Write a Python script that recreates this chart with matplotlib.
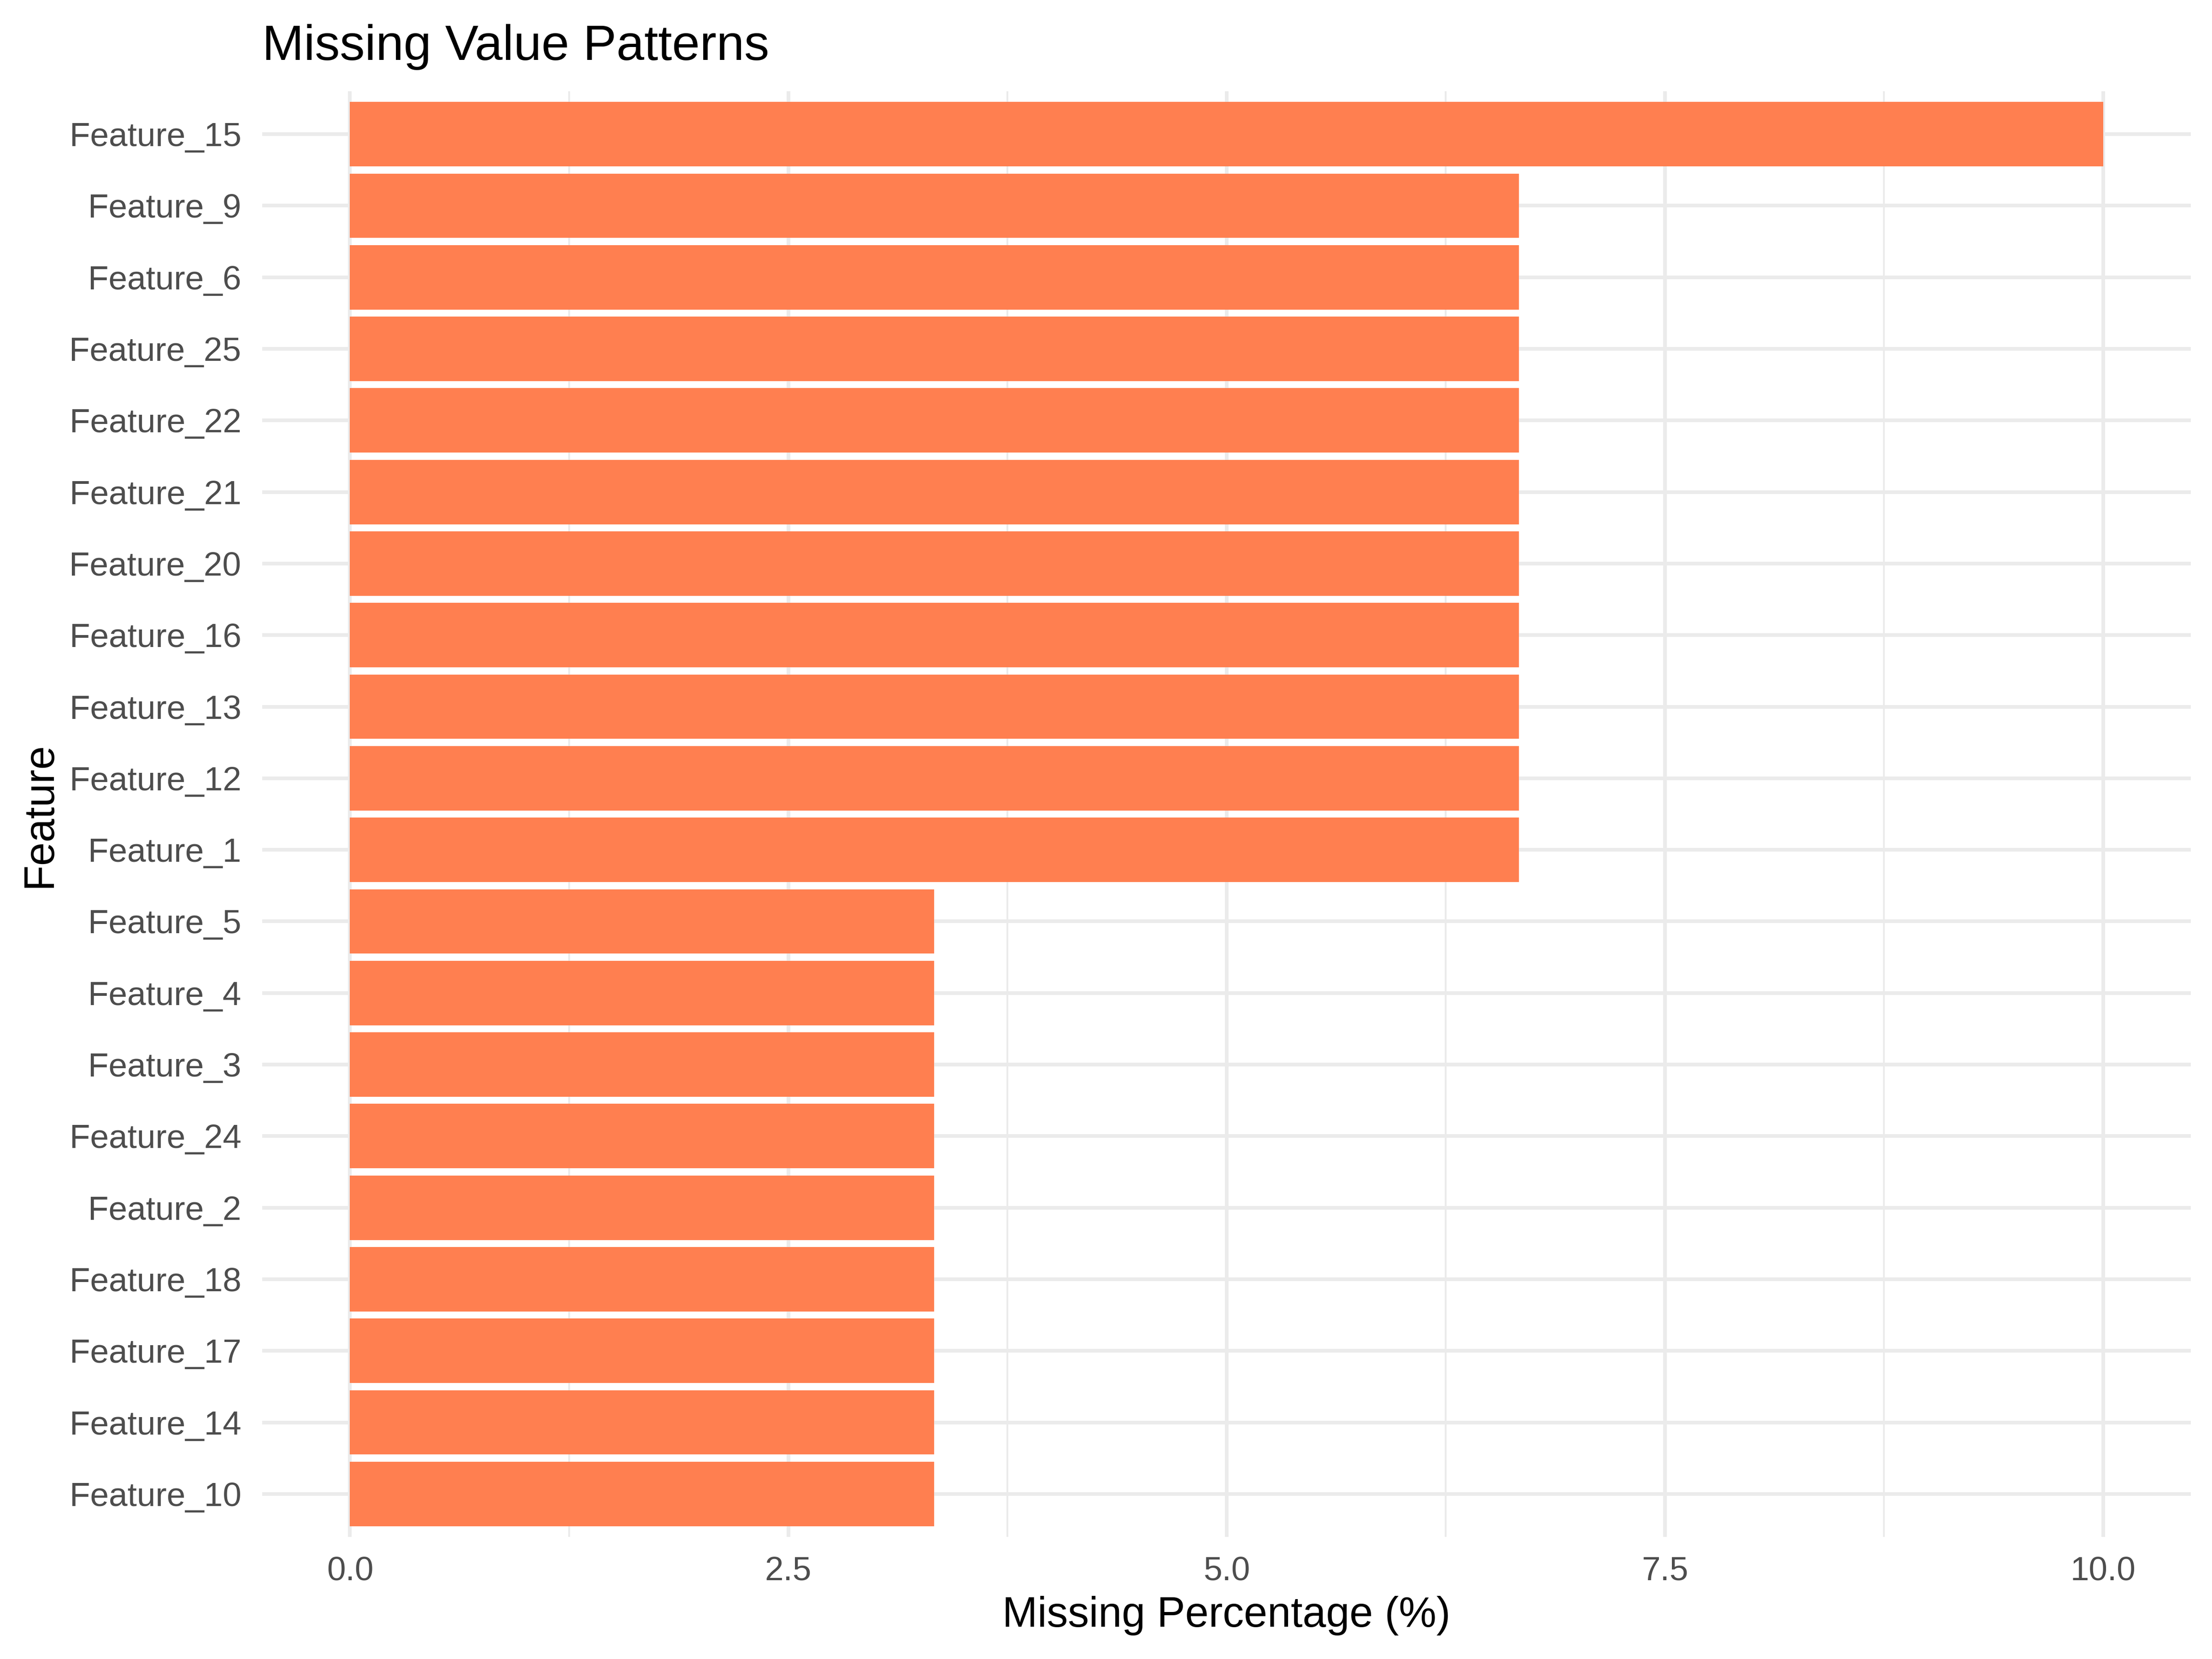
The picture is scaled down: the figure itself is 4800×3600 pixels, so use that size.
import matplotlib.pyplot as plt
import numpy as np

plt.rcParams['font.family'] = ['Liberation Sans', 'DejaVu Sans']

# features from top to bottom, as in the picture
features = ['Feature_15', 'Feature_9', 'Feature_6', 'Feature_25', 'Feature_22',
            'Feature_21', 'Feature_20', 'Feature_16', 'Feature_13', 'Feature_12',
            'Feature_1', 'Feature_5', 'Feature_4', 'Feature_3', 'Feature_24',
            'Feature_2', 'Feature_18', 'Feature_17', 'Feature_14', 'Feature_10']
missing_pct = [10.0, 6.667, 6.667, 6.667, 6.667,
               6.667, 6.667, 6.667, 6.667, 6.667,
               6.667, 3.333, 3.333, 3.333, 3.333,
               3.333, 3.333, 3.333, 3.333, 3.333]
x_ticks = [0.0, 2.5, 5.0, 7.5, 10.0]
x_minor = [1.25, 3.75, 6.25, 8.75]

fig = plt.figure(figsize=(16, 12), dpi=300)
ax = fig.add_axes([0.1186, 0.0736, 0.9904 - 0.1186, 0.945 - 0.0736])

# bottom bar first
feats = features[::-1]
vals = missing_pct[::-1]
pos = np.arange(1, len(feats) + 1)

ax.barh(pos, vals, height=0.9, color='#FF7F50', zorder=3)

ax.set_xlim(-0.5, 10.5)
ax.set_ylim(0.4, len(feats) + 0.6)
ax.set_yticks(pos)
ax.set_yticklabels(feats)
ax.set_xticks(x_ticks)
ax.set_xticklabels(['0.0', '2.5', '5.0', '7.5', '10.0'])
ax.set_xticks(x_minor, minor=True)

# ggplot minimal style grid
ax.grid(which='major', axis='both', color='#EBEBEB', linewidth=1.9, zorder=0)
ax.grid(which='minor', axis='x', color='#EBEBEB', linewidth=0.95, zorder=0)
ax.set_axisbelow(True)
for s in ax.spines.values():
    s.set_visible(False)
ax.tick_params(which='both', length=0)
ax.tick_params(axis='y', pad=11, labelsize=17.5, labelcolor='#4D4D4D')
ax.tick_params(axis='x', pad=10, labelsize=17.5, labelcolor='#4D4D4D')

fig.text(0.5545, 0.026, 'Missing Percentage (%)', ha='center', va='center', fontsize=22)
fig.text(0.018, 0.509, 'Feature', ha='center', va='center', rotation=90, fontsize=22)
fig.text(0.1186, 0.964, 'Missing Value Patterns', ha='left', va='baseline', fontsize=26)

fig.savefig('out.png', dpi=300, facecolor='white')
